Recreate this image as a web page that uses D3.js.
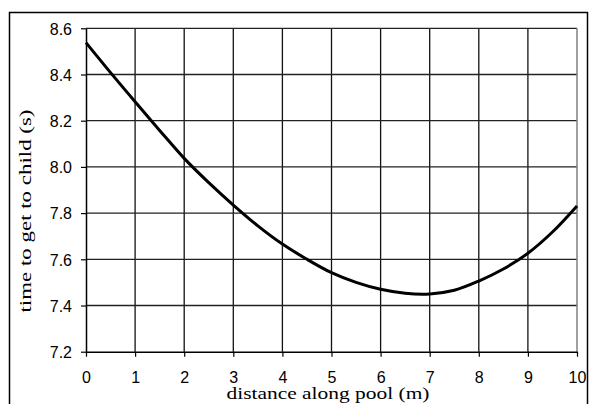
<!DOCTYPE html>
<html>
<head>
<meta charset="utf-8">
<script src="https://cdn.jsdelivr.net/npm/d3@7"></script>
<style>
body { margin: 0; background: #fff; }
</style>
</head>
<body>
<div id="chart"></div>
<script>
var svgWidth = 589;
var svgHeight = 404;

// values
var distance = [0, 0.5, 1, 1.5, 2, 2.5, 3, 3.5, 4, 4.5, 5, 5.5, 6, 6.5, 7, 7.5, 8, 8.5, 9, 9.5, 10];
var time = [8.538, 8.408, 8.282, 8.158, 8.037, 7.932, 7.835, 7.745, 7.666, 7.600, 7.542, 7.500, 7.470, 7.453, 7.450, 7.466, 7.506, 7.558, 7.626, 7.718, 7.831];
var xTicks = [0, 1, 2, 3, 4, 5, 6, 7, 8, 9, 10];
var yTicks = [7.2, 7.4, 7.6, 7.8, 8.0, 8.2, 8.4, 8.6];

var plot = { left: 86, right: 577, top: 28.3, bottom: 351.7 };

var svg = d3.select("#chart")
            .append("svg")
            .attr("width", svgWidth)
            .attr("height", svgHeight);

// outer frame
svg.append("rect")
   .attr("x", 9.5)
   .attr("y", 12.5)
   .attr("width", 578)
   .attr("height", 400)
   .attr("fill", "none")
   .attr("stroke", "#000")
   .attr("stroke-width", 1.5);

var xScale = d3.scaleLinear().domain([0, 10]).range([plot.left, plot.right]);
var yScale = d3.scaleLinear().domain([7.2, 8.6]).range([plot.bottom, plot.top]);

// grid
svg.append("g").selectAll("line")
   .data(xTicks.slice(1, -1))
   .enter().append("line")
   .attr("x1", d => xScale(d)).attr("x2", d => xScale(d))
   .attr("y1", plot.top).attr("y2", plot.bottom)
   .attr("stroke", "#111").attr("stroke-width", 1.3);

svg.append("g").selectAll("line")
   .data(yTicks.slice(1))
   .enter().append("line")
   .attr("x1", plot.left).attr("x2", plot.right)
   .attr("y1", d => yScale(d)).attr("y2", d => yScale(d))
   .attr("stroke", "#222").attr("stroke-width", 1.3);

// right border
svg.append("line")
   .attr("x1", plot.right).attr("x2", plot.right)
   .attr("y1", plot.top).attr("y2", plot.bottom)
   .attr("stroke", "#808080").attr("stroke-width", 1.5);

// axes
var bottomAxis = d3.axisBottom(xScale).tickValues(xTicks).tickSize(5).tickSizeOuter(0).tickFormat(d3.format("d"));
var leftAxis = d3.axisLeft(yScale).tickValues(yTicks).tickSize(5).tickSizeOuter(0).tickFormat(d3.format(".1f"));

var xAxis = svg.append("g")
               .attr("transform", `translate(0, ${plot.bottom})`)
               .call(bottomAxis);
var yAxis = svg.append("g")
               .attr("transform", `translate(${plot.left}, 0)`)
               .call(leftAxis);

[xAxis, yAxis].forEach(function(a) {
    a.attr("font-family", "Arial, 'Liberation Sans', sans-serif")
     .attr("font-size", 16);
    a.select(".domain").attr("stroke", "#000").attr("stroke-width", 1.5);
    a.selectAll(".tick line").attr("stroke", "#000").attr("stroke-width", 1.2);
    a.selectAll("text")
     .style("font-weight", "normal")
     .attr("fill", "#000");
});
xAxis.selectAll("text").attr("dy", null).attr("y", 31);
yAxis.selectAll("text").attr("x", -14).attr("dy", "0.36em");

// curve
var line = d3.line()
             .x((d, i) => xScale(distance[i]))
             .y(d => yScale(d))
             .curve(d3.curveCatmullRom);

svg.append("path")
   .datum(time)
   .attr("d", line)
   .attr("fill", "none")
   .attr("stroke", "#000")
   .attr("stroke-width", 3);

// axis titles
svg.append("text")
   .attr("x", 328)
   .attr("y", 399)
   .attr("text-anchor", "middle")
   .style("font-family", "'Times New Roman', 'Liberation Serif', serif")
   .style("font-weight", "normal")
   .attr("font-size", "17px")
   .attr("textLength", 203)
   .attr("lengthAdjust", "spacingAndGlyphs")
   .text("distance along pool (m)");

svg.append("text")
   .attr("transform", "translate(31, 211) rotate(-90)")
   .attr("text-anchor", "middle")
   .style("font-family", "'Times New Roman', 'Liberation Serif', serif")
   .style("font-weight", "normal")
   .attr("font-size", "17px")
   .attr("textLength", 203)
   .attr("lengthAdjust", "spacingAndGlyphs")
   .text("time to get to child (s)");
</script>
</body>
</html>
